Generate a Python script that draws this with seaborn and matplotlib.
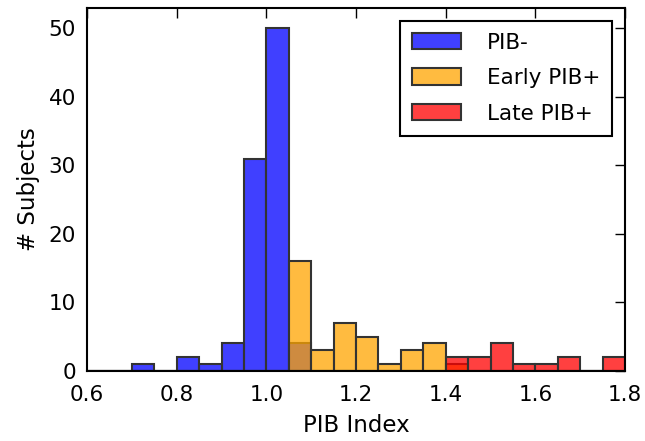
import numpy as np
import pandas as pd
import matplotlib
matplotlib.use("Agg")
import matplotlib.pyplot as plt
import seaborn as sns

# histogram bins (width 0.05) and counts
bin_edges = [round(0.6 + 0.05 * i, 2) for i in range(25)]
pib_neg = [0, 0, 1, 0, 2, 1, 4, 31, 50, 4, 0, 0, 0, 0, 0, 0, 0, 0, 0, 0, 0, 0, 0, 0]
early_pos = [0, 0, 0, 0, 0, 0, 0, 0, 0, 16, 3, 7, 5, 1, 3, 4, 1, 0, 0, 0, 0, 0, 0, 0]
late_pos = [0, 0, 0, 0, 0, 0, 0, 0, 0, 0, 0, 0, 0, 0, 0, 0, 2, 2, 4, 1, 1, 2, 0, 2]

groups = ["PIB-", "Early PIB+", "Late PIB+"]
colors = ["blue", "orange", "red"]

sns.set_style("white")
plt.rcParams.update({
    "xtick.direction": "in", "ytick.direction": "in",
    "xtick.top": True, "ytick.right": True,
    "xtick.major.size": 7, "ytick.major.size": 7,
    "axes.linewidth": 1.5, "axes.edgecolor": "black",
    "text.color": "black", "axes.labelcolor": "black",
    "xtick.color": "black", "ytick.color": "black",
    "font.family": ["DejaVu Sans"],
})

centers = [(a + b) / 2 for a, b in zip(bin_edges[:-1], bin_edges[1:])]
fig = plt.figure(figsize=(6.45, 4.41), dpi=100)
ax = fig.add_axes([0.135, 0.159, 0.834, 0.823])

for counts, col, lab in zip([pib_neg, early_pos, late_pos], colors, groups):
    df = pd.DataFrame({"pib": centers, "n": counts})
    sns.histplot(data=df, x="pib", weights="n", bins=bin_edges, color=col, alpha=0.75,
                 edgecolor="0.2", linewidth=1.5, label=lab, ax=ax)

ax.set_xlim(0.6, 1.8)
ax.set_ylim(0, 53)
ax.set_xticks(np.arange(0.6, 1.81, 0.2))
ax.set_xticklabels([f"{v:.1f}" for v in np.arange(0.6, 1.81, 0.2)])
ax.set_yticks(range(0, 51, 10))
ax.tick_params(labelsize=15.5, width=1)
ax.tick_params(axis="x", pad=10)
ax.tick_params(axis="y", pad=8)
ax.set_xlabel("PIB Index", fontsize=16.5, labelpad=7)
ax.set_ylabel("# Subjects", fontsize=16.5, labelpad=6)

leg = ax.legend(loc="upper right", fontsize=15.5, fancybox=False, edgecolor="black",
                framealpha=1, handlelength=2.3, handleheight=0.8, borderpad=0.55,
                labelspacing=0.72, handletextpad=1.2, borderaxespad=0.6)
leg.get_frame().set_linewidth(1.5)

fig.savefig("out.png", dpi=100)
